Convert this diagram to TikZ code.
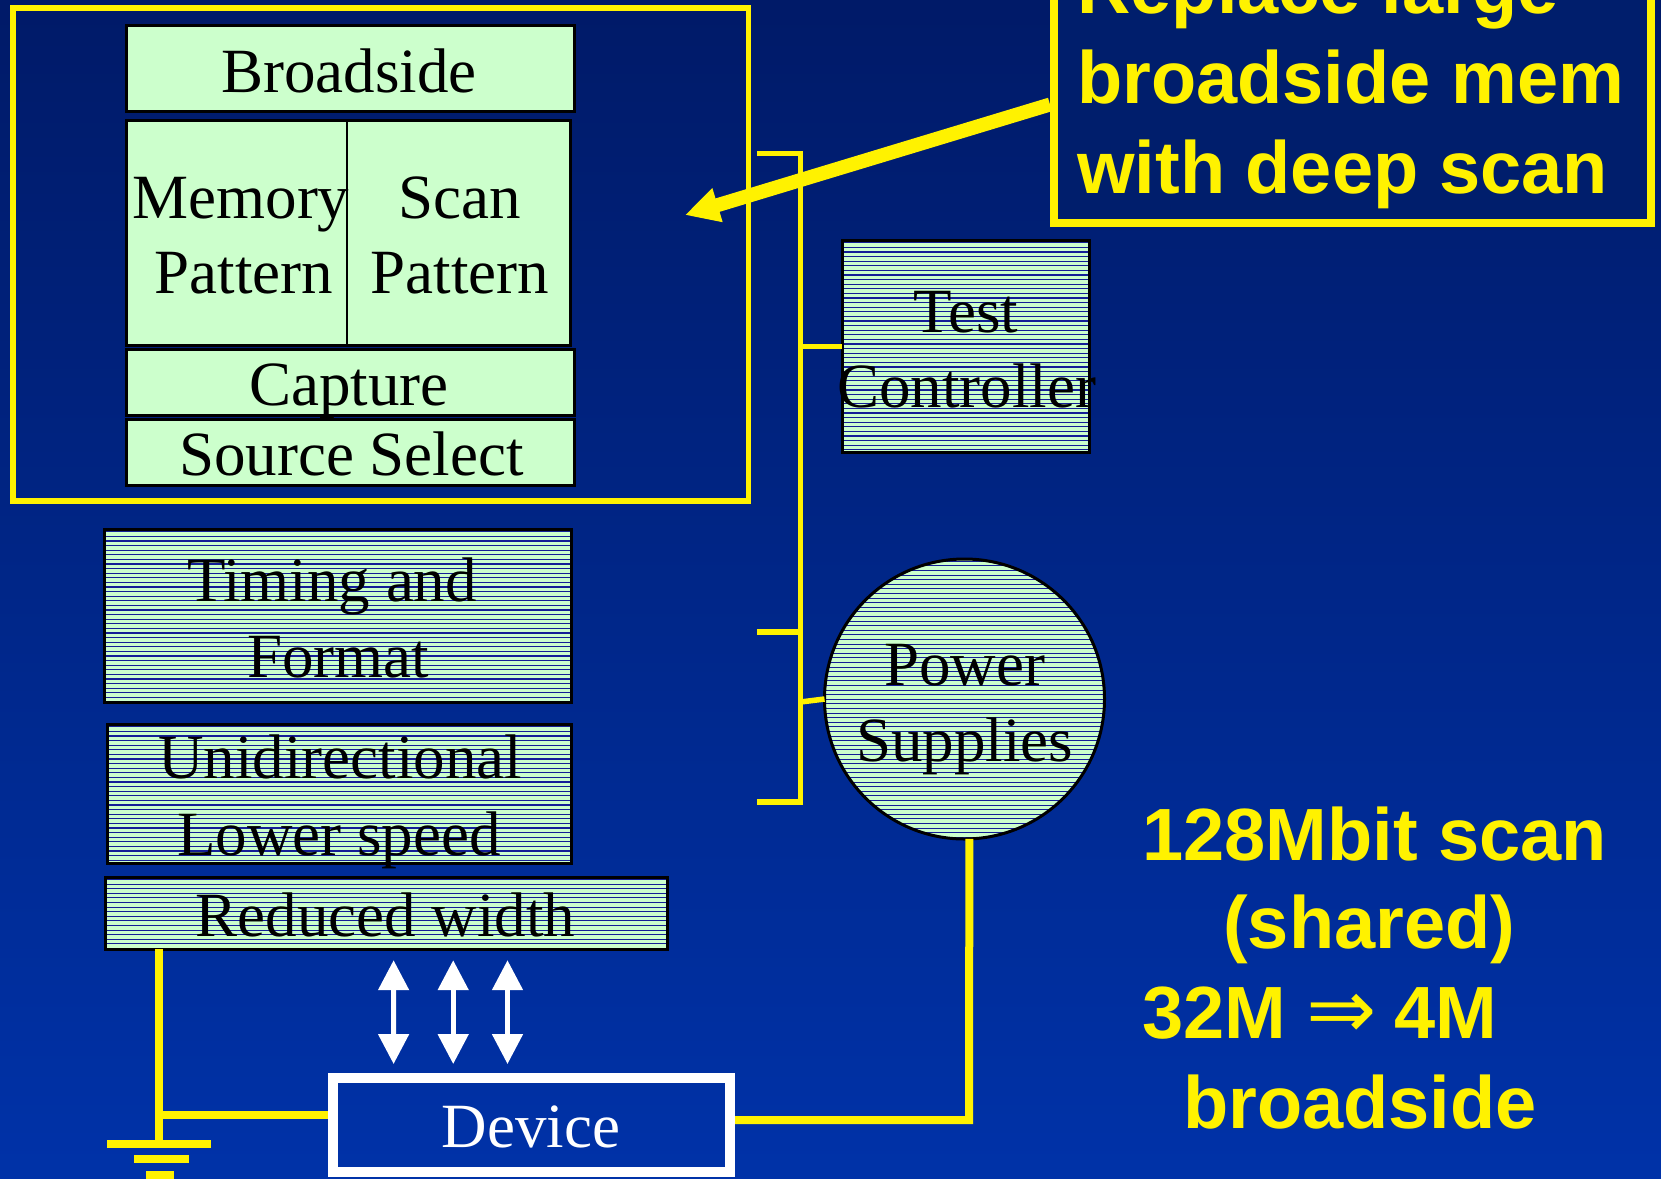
\documentclass[tikz,border=0pt]{standalone}
\usepackage{fontspec}
\setmainfont{Liberation Serif}
\setsansfont{Liberation Sans}
\newfontfamily\arrowfont{DejaVu Sans}
\usetikzlibrary{arrows.meta,calc}

\definecolor{bgtop}{RGB}{0,26,104}
\definecolor{bgbot}{RGB}{0,50,168}
\definecolor{mint}{RGB}{204,255,204}
\definecolor{hatchblue}{RGB}{20,30,150}
\definecolor{calloutfill}{RGB}{0,30,108}

\tikzset{
  plainbox/.style={draw=black, line width=3pt, fill=mint, inner sep=0pt, outer sep=0pt},
  hatchbox/.style={plainbox, path picture={
      \foreach \k [evaluate=\k as \yy using {-2.3-4.6*\k}] in {0,...,70}
        \draw[hatchblue, line width=1.1pt]
          ([yshift=\yy pt]path picture bounding box.north west) --
          ([yshift=\yy pt]path picture bounding box.north east);}},
  groupframe/.style={draw=yellow, line width=5.5pt, inner sep=0pt},
  lbl/.style={font=\fontsize{63}{75}\selectfont, inner sep=0pt, anchor=base},
  ylbl/.style={font=\sffamily\bfseries\fontsize{74}{89}\selectfont, text=yellow,
               inner sep=0pt, anchor=base west},
  wire/.style={yellow, line width=5.5pt},
  gwire/.style={yellow, line width=8pt},
  callarrow/.style={yellow, line width=14pt, -{Triangle[length=34pt,width=33pt]}},
  busarrow/.style={white, line width=5pt,
     {Triangle[length=30pt,width=30pt]}-{Triangle[length=30pt,width=30pt]}},
}

\begin{document}
\begin{tikzpicture}[x=1pt,y=-1pt]
\useasboundingbox (0,0) rectangle (1661,1178);
\clip (0,0) rectangle (1661,1178);
\shade[top color=bgtop, bottom color=bgbot] (0,0) rectangle (1661,1178);

% pattern memory group
\node[groupframe, minimum width=735.5pt, minimum height=493pt] (grp) at (380.75,254.5) {};
\node[plainbox, minimum width=448pt, minimum height=86pt] (broad) at (350,68.5) {};
\node[plainbox, line width=2pt, minimum width=220.5pt, minimum height=225pt] (mem) at (236.35,233) {};
\node[plainbox, line width=2pt, minimum width=223.9pt, minimum height=225pt] (scan) at (458.55,233) {};
\draw[line width=3pt] (mem.north west) rectangle (scan.south east);
\node[plainbox, minimum width=448pt, minimum height=66pt] (capt) at (350,382.5) {};
\node[plainbox, minimum width=448pt, minimum height=66pt] (srcsel) at (350,452.5) {};

\node[lbl] (broadT) at (349,92) {Broadside};
\node[lbl] (memT1) at (241,218) {Memory};
\node[lbl] (memT2) at (244,293) {Pattern};
\node[lbl] (scanT1) at (460,218) {Scan};
\node[lbl] (scanT2) at (460,293) {Pattern};
\node[lbl] (captT) at (349,405) {Capture};
\node[lbl] (srcselT) at (351.5,475) {Source Select};

% tester blocks
\node[hatchbox, minimum width=247pt, minimum height=212pt] (tc) at (965.7,346.5) {};
\node[hatchbox, minimum width=467pt, minimum height=173pt] (timing) at (338,616) {};
\node[hatchbox, minimum width=464pt, minimum height=139pt] (uni) at (339.5,794) {};
\node[hatchbox, minimum width=562pt, minimum height=72pt] (reduced) at (386.4,913.2) {};
\node[hatchbox, circle, minimum size=280pt] (ps) at (964.5,699) {};

\node[lbl] (tcT1) at (966,332) {Test};
\node[lbl] (tcT2) at (966.5,407) {Controller};
\node[lbl] (timingT1) at (332,601) {Timing and};
\node[lbl] (timingT2) at (338,677) {Format};
\node[lbl] (uniT1) at (340,778) {Unidirectional};
\node[lbl] (uniT2) at (339,855) {Lower speed};
\node[lbl] (reducedT) at (385.5,936) {Reduced width};
\node[lbl] (psT1) at (964.5,685) {Power};
\node[lbl] (psT2) at (964.5,761) {Supplies};

% device under test
\node[draw=white, line width=10pt, inner sep=0pt, minimum width=397pt, minimum height=94pt] (device) at (531.5,1125) {};
\node[lbl, text=white] (deviceT) at (531,1147) {Device};

% bus bracket
\coordinate (btop) at (800.5,153.5);
\coordinate (bmid) at (800.5,632);
\coordinate (bbot) at (800.5,802);
\draw[wire, line join=miter] ($(btop)+(-43.5,0)$) -- (btop) -- (bbot) -- ($(bbot)+(-43.5,0)$);
\draw[wire] ($(bmid)+(-43.5,0)$) -- (bmid);
\draw[wire] (tc.west -| btop) -- (tc.west);
\draw[wire] ($(ps.west -| btop)+(0,3)$) -- (ps.west);

% ground and supply wiring
\coordinate (gnd) at (159,1144);
\coordinate (gj) at (159,1115);
\draw[gwire] (reduced.south -| gnd) -- (gnd);
\draw[gwire] (gj) -- (gj -| device.west);
\draw[gwire] ($(gnd)+(-52,0)$) -- ($(gnd)+(52,0)$);
\draw[gwire] ($(gnd)+(-25,15)$) -- ($(gnd)+(30,15)$);
\draw[gwire] ($(gnd)+(-13,31)$) -- ($(gnd)+(15,31)$);
\coordinate (pc) at (969,1120);
\draw[gwire] (ps.-88) -- (pc) -- (pc -| device.east);

% data bus
\draw[busarrow] ([xshift=7.2pt,yshift=-11pt]reduced.south) -- ([xshift=-137.9pt,yshift=9pt]device.north);
\draw[busarrow] ([xshift=66.8pt,yshift=-11pt]reduced.south) -- ([xshift=-78.3pt,yshift=9pt]device.north);
\draw[busarrow] ([xshift=121.1pt,yshift=-11pt]reduced.south) -- ([xshift=-24pt,yshift=9pt]device.north);

% callout
\node[draw=yellow, line width=8pt, fill=calloutfill, inner sep=0pt,
      minimum width=597pt, minimum height=253pt] (callout) at (1352.5,96.5) {};
\node[ylbl] (callT1) at (1077,13) {Replace large};
\node[ylbl] (callT2) at (1077,103) {broadside mem};
\node[ylbl] (callT3) at (1077,193) {with deep scan};
\coordinate (arrowtip) at (685,215);
\draw[callarrow] ([yshift=-8pt]callout.west) -- (arrowtip);

% summary notes
\node[ylbl] (noteT1) at (1142,860) {128Mbit scan};
\node[ylbl] (noteT2) at (1223,948) {(shared)};
\node[ylbl] (noteT3) at (1142,1038) {32M\hspace{20pt}{\arrowfont\mdseries\fontsize{84}{89}\selectfont ⇒}\hspace{18pt}4M};
\node[ylbl] (noteT4) at (1183,1128) {broadside};
\end{tikzpicture}
\end{document}
